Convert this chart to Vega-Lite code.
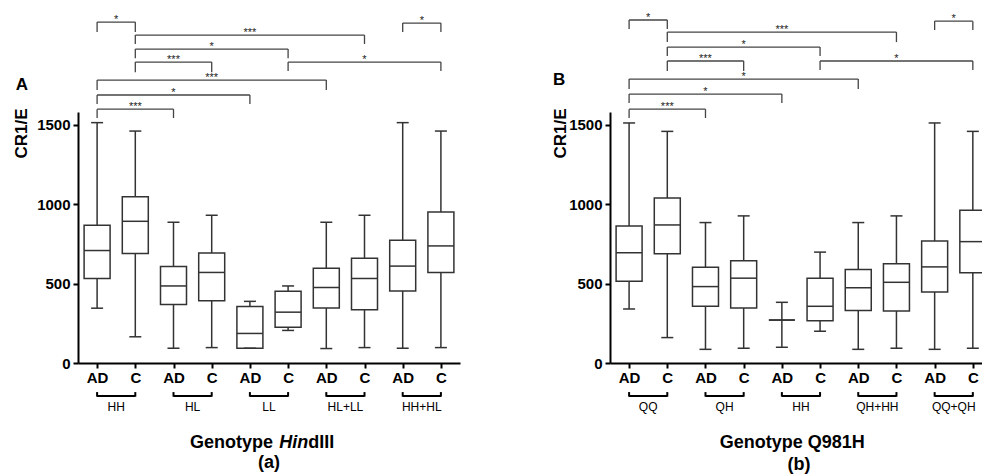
{
  "$schema": "https://vega.github.io/schema/vega-lite/v6.json",
  "background": "white",
  "padding": {"left": 12, "top": 12, "right": 0, "bottom": 0},
  "spacing": 90,
  "config": {
    "view": {"stroke": null},
    "font": "Liberation Sans",
    "scale": {"continuousPadding": 0},
    "axis": {
      "grid": false, "domainColor": "black", "tickColor": "black", "labelColor": "black", "titleColor": "black",
      "domainWidth": 2, "tickWidth": 2, "tickSize": 5, "labelFontSize": 15, "labelFontWeight": "bold",
      "labelFlush": false, "labelOverlap": false
    }
  },
  "resolve": {"scale": {"x": "independent", "y": "independent"}},
  "datasets": {
    "boxA": [
      {"genotype": "HH", "group": "AD", "slot": 1, "min": 345, "q1": 532, "median": 708, "q3": 867, "max": 1513},
      {"genotype": "HH", "group": "C", "slot": 2, "min": 165, "q1": 689, "median": 892, "q3": 1047, "max": 1460},
      {"genotype": "HL", "group": "AD", "slot": 3, "min": 93, "q1": 369, "median": 485, "q3": 608, "max": 886},
      {"genotype": "HL", "group": "C", "slot": 4, "min": 97, "q1": 392, "median": 570, "q3": 693, "max": 930},
      {"genotype": "LL", "group": "AD", "slot": 5, "min": 93, "q1": 93, "median": 186, "q3": 356, "max": 388},
      {"genotype": "LL", "group": "C", "slot": 6, "min": 205, "q1": 225, "median": 320, "q3": 451, "max": 485},
      {"genotype": "HL+LL", "group": "AD", "slot": 7, "min": 91, "q1": 347, "median": 475, "q3": 597, "max": 886},
      {"genotype": "HL+LL", "group": "C", "slot": 8, "min": 97, "q1": 335, "median": 532, "q3": 659, "max": 930},
      {"genotype": "HH+HL", "group": "AD", "slot": 9, "min": 93, "q1": 453, "median": 610, "q3": 773, "max": 1513},
      {"genotype": "HH+HL", "group": "C", "slot": 10, "min": 97, "q1": 570, "median": 737, "q3": 951, "max": 1460}
    ],
    "boxB": [
      {"genotype": "QQ", "group": "AD", "slot": 1, "min": 340, "q1": 515, "median": 694, "q3": 863, "max": 1511},
      {"genotype": "QQ", "group": "C", "slot": 2, "min": 160, "q1": 688, "median": 869, "q3": 1038, "max": 1458},
      {"genotype": "QH", "group": "AD", "slot": 3, "min": 86, "q1": 357, "median": 481, "q3": 603, "max": 884},
      {"genotype": "QH", "group": "C", "slot": 4, "min": 93, "q1": 346, "median": 534, "q3": 643, "max": 926},
      {"genotype": "HH", "group": "AD", "slot": 5, "min": 99, "q1": 270, "median": 270, "q3": 270, "max": 382},
      {"genotype": "HH", "group": "C", "slot": 6, "min": 200, "q1": 266, "median": 357, "q3": 534, "max": 698},
      {"genotype": "QH+HH", "group": "AD", "slot": 7, "min": 86, "q1": 331, "median": 473, "q3": 589, "max": 884},
      {"genotype": "QH+HH", "group": "C", "slot": 8, "min": 93, "q1": 327, "median": 508, "q3": 624, "max": 926},
      {"genotype": "QQ+QH", "group": "AD", "slot": 9, "min": 86, "q1": 447, "median": 605, "q3": 768, "max": 1511},
      {"genotype": "QQ+QH", "group": "C", "slot": 10, "min": 93, "q1": 568, "median": 764, "q3": 962, "max": 1458}
    ],
    "bracketsA": [
      {"from": 1, "to": 2, "top": 2146, "leg": 2083, "label": "*"},
      {"from": 2, "to": 8, "top": 2064, "leg": 2008, "label": "***"},
      {"from": 2, "to": 6, "top": 1976, "leg": 1919, "label": "*"},
      {"from": 2, "to": 4, "top": 1894, "leg": 1831, "label": "***"},
      {"from": 6, "to": 10, "top": 1894, "leg": 1838, "label": "*"},
      {"from": 1, "to": 7, "top": 1781, "leg": 1718, "label": "***"},
      {"from": 1, "to": 5, "top": 1687, "leg": 1630, "label": "*"},
      {"from": 1, "to": 3, "top": 1598, "leg": 1542, "label": "***"},
      {"from": 9, "to": 10, "top": 2140, "leg": 2083, "label": "*"}
    ],
    "bracketsB": [
      {"from": 1, "to": 2, "top": 2159, "leg": 2102, "label": "*"},
      {"from": 2, "to": 8, "top": 2083, "leg": 2020, "label": "***"},
      {"from": 2, "to": 6, "top": 1989, "leg": 1932, "label": "*"},
      {"from": 2, "to": 4, "top": 1901, "leg": 1838, "label": "***"},
      {"from": 6, "to": 10, "top": 1901, "leg": 1844, "label": "*"},
      {"from": 1, "to": 7, "top": 1787, "leg": 1724, "label": "*"},
      {"from": 1, "to": 5, "top": 1693, "leg": 1636, "label": "*"},
      {"from": 1, "to": 3, "top": 1598, "leg": 1542, "label": "***"},
      {"from": 9, "to": 10, "top": 2152, "leg": 2096, "label": "*"}
    ],
    "groupsA": [
      {"label": "HH", "from": 1, "to": 2},
      {"label": "HL", "from": 3, "to": 4},
      {"label": "LL", "from": 5, "to": 6},
      {"label": "HL+LL", "from": 7, "to": 8},
      {"label": "HH+HL", "from": 9, "to": 10}
    ],
    "groupsB": [
      {"label": "QQ", "from": 1, "to": 2},
      {"label": "QH", "from": 3, "to": 4},
      {"label": "HH", "from": 5, "to": 6},
      {"label": "QH+HH", "from": 7, "to": 8},
      {"label": "QQ+QH", "from": 9, "to": 10}
    ]
  },
  "hconcat": [
    {
      "width": 382,
      "height": 251,
      "layer": [
        {
          "data": {"name": "boxA"},
          "mark": {"type": "rule", "color": "#333", "strokeWidth": 1.5},
          "encoding": {
            "x": {"field": "slot", "type": "quantitative", "scale": {"domain": [0.5, 10.5], "nice": false, "zero": false, "padding": 0},
                  "axis": {"values": [1,2,3,4,5,6,7,8,9,10], "labelExpr": "datum.value % 2 == 1 ? 'AD' : 'C'", "title": null, "labelPadding": 2}},
            "y": {"field": "min", "type": "quantitative", "scale": {"domain": [0, 1580], "nice": false, "padding": 0},
                  "axis": {"values": [0, 500, 1000, 1500], "format": "d", "labelPadding": 3, "title": "CR1/E", "titleFontSize": 17, "titleFontWeight": "bold",
                           "titleAngle": -90, "titleAlign": "right", "titleBaseline": "alphabetic", "titleX": -52, "titleY": -4}},
            "y2": {"field": "max"}
          }
        },
        {
          "data": {"name": "boxA"},
          "mark": {"type": "bar", "orient": "vertical", "size": 26, "fill": "white", "stroke": "#333", "strokeWidth": 1.5},
          "encoding": {"x": {"field": "slot", "type": "quantitative"}, "y": {"field": "q1", "type": "quantitative"}, "y2": {"field": "q3"}}
        },
        {
          "data": {"name": "boxA"},
          "mark": {"type": "tick", "orient": "horizontal", "size": 26, "thickness": 1.5, "color": "#333", "opacity": 1},
          "encoding": {"x": {"field": "slot", "type": "quantitative"}, "y": {"field": "median", "type": "quantitative"}}
        },
        {
          "data": {"name": "boxA"},
          "mark": {"type": "tick", "orient": "horizontal", "size": 12, "thickness": 1.5, "color": "#333", "opacity": 1},
          "encoding": {"x": {"field": "slot", "type": "quantitative"}, "y": {"field": "min", "type": "quantitative"}}
        },
        {
          "data": {"name": "boxA"},
          "mark": {"type": "tick", "orient": "horizontal", "size": 12, "thickness": 1.5, "color": "#333", "opacity": 1},
          "encoding": {"x": {"field": "slot", "type": "quantitative"}, "y": {"field": "max", "type": "quantitative"}}
        },
        {
          "data": {"name": "bracketsA"},
          "mark": {"type": "rule", "color": "#444", "strokeWidth": 1.3},
          "encoding": {"x": {"field": "from", "type": "quantitative"}, "x2": {"field": "to"}, "y": {"field": "top", "type": "quantitative"}}
        },
        {
          "data": {"name": "bracketsA"},
          "mark": {"type": "rule", "color": "#444", "strokeWidth": 1.3},
          "encoding": {"x": {"field": "from", "type": "quantitative"}, "y": {"field": "leg", "type": "quantitative"}, "y2": {"field": "top"}}
        },
        {
          "data": {"name": "bracketsA"},
          "mark": {"type": "rule", "color": "#444", "strokeWidth": 1.3},
          "encoding": {"x": {"field": "to", "type": "quantitative"}, "y": {"field": "leg", "type": "quantitative"}, "y2": {"field": "top"}}
        },
        {
          "data": {"name": "bracketsA"},
          "transform": [{"calculate": "(datum.from + datum.to) / 2", "as": "mid"}],
          "mark": {"type": "text", "fontSize": 11, "color": "#222", "baseline": "alphabetic", "dy": 1},
          "encoding": {"x": {"field": "mid", "type": "quantitative"}, "y": {"field": "top", "type": "quantitative"}, "text": {"field": "label"}}
        },
        {
          "data": {"name": "groupsA"},
          "mark": {"type": "rule", "color": "black", "strokeWidth": 2},
          "encoding": {"x": {"field": "from", "type": "quantitative"}, "x2": {"field": "to"}, "y": {"datum": -208}}
        },
        {
          "data": {"name": "groupsA"},
          "mark": {"type": "rule", "color": "black", "strokeWidth": 2},
          "encoding": {"x": {"field": "from", "type": "quantitative"}, "y": {"datum": -212}, "y2": {"datum": -183}}
        },
        {
          "data": {"name": "groupsA"},
          "mark": {"type": "rule", "color": "black", "strokeWidth": 2},
          "encoding": {"x": {"field": "to", "type": "quantitative"}, "y": {"datum": -212}, "y2": {"datum": -183}}
        },
        {
          "data": {"name": "groupsA"},
          "transform": [{"calculate": "(datum.from + datum.to) / 2", "as": "mid"}],
          "mark": {"type": "text", "fontSize": 12, "color": "black", "baseline": "middle"},
          "encoding": {"x": {"field": "mid", "type": "quantitative"}, "y": {"datum": -277}, "text": {"field": "label"}}
        },
        {
          "data": {"values": [{}]},
          "mark": {"type": "text", "fontSize": 17, "fontWeight": "bold", "color": "black", "baseline": "middle", "align": "center", "text": "A"},
          "encoding": {"x": {"datum": -0.97}, "y": {"datum": 1750}}
        },
        {
          "data": {"values": [{}]},
          "mark": {"type": "text", "fontSize": 18, "fontWeight": "bold", "color": "black", "baseline": "middle", "align": "left", "text": "Genotype"},
          "encoding": {"x": {"datum": 3.43}, "y": {"datum": -503}}
        },
        {
          "data": {"values": [{}]},
          "mark": {"type": "text", "fontSize": 18, "fontWeight": "bold", "fontStyle": "italic", "color": "black", "baseline": "middle", "align": "left", "text": "Hin"},
          "encoding": {"x": {"datum": 5.77}, "y": {"datum": -503}}
        },
        {
          "data": {"values": [{}]},
          "mark": {"type": "text", "fontSize": 18, "fontWeight": "bold", "color": "black", "baseline": "middle", "align": "left", "text": "dIII"},
          "encoding": {"x": {"datum": 6.53}, "y": {"datum": -503}}
        },
        {
          "data": {"values": [{}]},
          "mark": {"type": "text", "fontSize": 18, "fontWeight": "bold", "color": "black", "baseline": "middle", "align": "center", "text": "(a)"},
          "encoding": {"x": {"datum": 5.5}, "y": {"datum": -628}}
        }
      ]
    },
    {
      "width": 372,
      "height": 251,
      "layer": [
        {
          "data": {"name": "boxB"},
          "mark": {"type": "rule", "color": "#333", "strokeWidth": 1.5},
          "encoding": {
            "x": {"field": "slot", "type": "quantitative", "scale": {"domain": [0.5, 10.24], "nice": false, "zero": false, "padding": 0},
                  "axis": {"values": [1,2,3,4,5,6,7,8,9,10], "labelExpr": "datum.value % 2 == 1 ? 'AD' : 'C'", "title": null, "labelPadding": 2}},
            "y": {"field": "min", "type": "quantitative", "scale": {"domain": [0, 1580], "nice": false, "padding": 0},
                  "axis": {"values": [0, 500, 1000, 1500], "format": "d", "labelPadding": 3, "title": "CR1/E", "titleFontSize": 17, "titleFontWeight": "bold",
                           "titleAngle": -90, "titleAlign": "right", "titleBaseline": "alphabetic", "titleX": -45, "titleY": -4}},
            "y2": {"field": "max"}
          }
        },
        {
          "data": {"name": "boxB"},
          "mark": {"type": "bar", "orient": "vertical", "size": 26, "fill": "white", "stroke": "#333", "strokeWidth": 1.5, "clip": true},
          "encoding": {"x": {"field": "slot", "type": "quantitative"}, "y": {"field": "q1", "type": "quantitative"}, "y2": {"field": "q3"}}
        },
        {
          "data": {"name": "boxB"},
          "mark": {"type": "tick", "orient": "horizontal", "size": 26, "thickness": 1.5, "color": "#333", "opacity": 1, "clip": true},
          "encoding": {"x": {"field": "slot", "type": "quantitative"}, "y": {"field": "median", "type": "quantitative"}}
        },
        {
          "data": {"name": "boxB"},
          "mark": {"type": "tick", "orient": "horizontal", "size": 12, "thickness": 1.5, "color": "#333", "opacity": 1},
          "encoding": {"x": {"field": "slot", "type": "quantitative"}, "y": {"field": "min", "type": "quantitative"}}
        },
        {
          "data": {"name": "boxB"},
          "mark": {"type": "tick", "orient": "horizontal", "size": 12, "thickness": 1.5, "color": "#333", "opacity": 1},
          "encoding": {"x": {"field": "slot", "type": "quantitative"}, "y": {"field": "max", "type": "quantitative"}}
        },
        {
          "data": {"name": "bracketsB"},
          "mark": {"type": "rule", "color": "#444", "strokeWidth": 1.3},
          "encoding": {"x": {"field": "from", "type": "quantitative"}, "x2": {"field": "to"}, "y": {"field": "top", "type": "quantitative"}}
        },
        {
          "data": {"name": "bracketsB"},
          "mark": {"type": "rule", "color": "#444", "strokeWidth": 1.3},
          "encoding": {"x": {"field": "from", "type": "quantitative"}, "y": {"field": "leg", "type": "quantitative"}, "y2": {"field": "top"}}
        },
        {
          "data": {"name": "bracketsB"},
          "mark": {"type": "rule", "color": "#444", "strokeWidth": 1.3},
          "encoding": {"x": {"field": "to", "type": "quantitative"}, "y": {"field": "leg", "type": "quantitative"}, "y2": {"field": "top"}}
        },
        {
          "data": {"name": "bracketsB"},
          "transform": [{"calculate": "(datum.from + datum.to) / 2", "as": "mid"}],
          "mark": {"type": "text", "fontSize": 11, "color": "#222", "baseline": "alphabetic", "dy": 1},
          "encoding": {"x": {"field": "mid", "type": "quantitative"}, "y": {"field": "top", "type": "quantitative"}, "text": {"field": "label"}}
        },
        {
          "data": {"name": "groupsB"},
          "mark": {"type": "rule", "color": "black", "strokeWidth": 2},
          "encoding": {"x": {"field": "from", "type": "quantitative"}, "x2": {"field": "to"}, "y": {"datum": -208}}
        },
        {
          "data": {"name": "groupsB"},
          "mark": {"type": "rule", "color": "black", "strokeWidth": 2},
          "encoding": {"x": {"field": "from", "type": "quantitative"}, "y": {"datum": -212}, "y2": {"datum": -183}}
        },
        {
          "data": {"name": "groupsB"},
          "mark": {"type": "rule", "color": "black", "strokeWidth": 2},
          "encoding": {"x": {"field": "to", "type": "quantitative"}, "y": {"datum": -212}, "y2": {"datum": -183}}
        },
        {
          "data": {"name": "groupsB"},
          "transform": [{"calculate": "(datum.from + datum.to) / 2", "as": "mid"}],
          "mark": {"type": "text", "fontSize": 12, "color": "black", "baseline": "middle"},
          "encoding": {"x": {"field": "mid", "type": "quantitative"}, "y": {"datum": -277}, "text": {"field": "label"}}
        },
        {
          "data": {"values": [{}]},
          "mark": {"type": "text", "fontSize": 17, "fontWeight": "bold", "color": "black", "baseline": "middle", "align": "center", "text": "B"},
          "encoding": {"x": {"datum": -0.83}, "y": {"datum": 1781}}
        },
        {
          "data": {"values": [{}]},
          "mark": {"type": "text", "fontSize": 18, "fontWeight": "bold", "color": "black", "baseline": "middle", "align": "center", "text": "Genotype Q981H"},
          "encoding": {"x": {"datum": 5.27}, "y": {"datum": -503}}
        },
        {
          "data": {"values": [{}]},
          "mark": {"type": "text", "fontSize": 18, "fontWeight": "bold", "color": "black", "baseline": "middle", "align": "center", "text": "(b)"},
          "encoding": {"x": {"datum": 5.45}, "y": {"datum": -640}}
        }
      ]
    }
  ]
}
